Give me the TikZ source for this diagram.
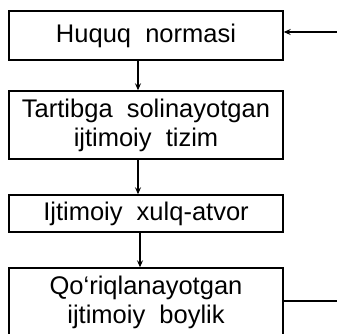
\documentclass[tikz,border=0pt]{standalone}
\usepackage{fontspec}
\setmainfont{Liberation Sans}
\usetikzlibrary{arrows.meta}
\begin{document}
\begin{tikzpicture}[x=1pt,y=-1pt,
  box/.style={draw, line width=1.4pt, minimum width=274pt, align=center, inner sep=0pt,
    font=\fontsize{25.5}{29}\selectfont},
  conn/.style={line width=1.4pt},
  arr/.style={conn, -{Stealth[length=7pt,width=6pt,inset=2.5pt]}}]
\useasboundingbox (0,0) rectangle (337,333);
\clip (0,0) rectangle (337,333);
\node[box, minimum height=49pt] (b1) at (146,35.5) {Huquq\ \ normasi};
\node[box, minimum height=68pt] (b2) at (146,125) {Tartibga\ \ solinayotgan\\ijtimoiy\ \ tizim};
\node[box, minimum height=37pt] (b3) at (146,213.5) {Ijtimoiy\ \ xulq-atvor};
\node[box, minimum height=68pt] (b4) at (146,302) {Qo‘riqlanayotgan\\ijtimoiy\ \ boylik};
\coordinate (in1) at (337,32);
\coordinate (out4) at (337,301);
\draw[arr] (b1.south -| 138,0) -- (b2.north -| 138,0);
\draw[arr] (b2.south -| 138,0) -- (b3.north -| 138,0);
\draw[arr] (b3.south -| 140,0) -- (b4.north -| 140,0);
\draw[arr] (in1) -- (in1 -| b1.east);
\draw[conn] (b4.east |- out4) -- (out4);
\end{tikzpicture}
\end{document}
